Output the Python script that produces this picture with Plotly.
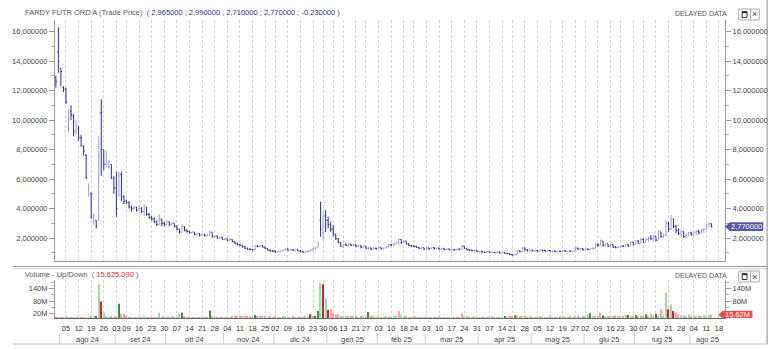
import pandas as pd
import plotly.graph_objects as go

# ---------------- data ----------------
first_session = "2024-07-30"
holidays = ["2024-09-02", "2024-11-28", "2024-12-25", "2025-01-01", "2025-01-09",
            "2025-01-20", "2025-02-17", "2025-04-18", "2025-05-26", "2025-06-19", "2025-07-04"]
month_names = ["gen", "feb", "mar", "apr", "mag", "giu", "lug", "ago", "set", "ott", "nov", "dic"]
price_ticks = [2, 4, 6, 8, 10, 12, 14, 16]
price_tick_text = ["2,000000", "4,000000", "6,000000", "8,000000", "10,000000",
                   "12,000000", "14,000000", "16,000000"]
volume_ticks = [20, 80, 140]
volume_tick_text = ["20M", "80M", "140M"]

opens = [
    12.9, 14.6, 13.5, 12.2, 12.1, 9.5, 10.6, 10.3, 9.3, 9.4,
    8.8, 8.2, 7.6, 5.0, 5.0, 3.3, 3.2, 3.2, 10.5, 8.0,
    7.0, 6.8, 7.0, 6.0, 5.4, 4.9, 6.3, 4.8, 4.5, 4.4,
    4.1, 4.0, 4.1, 3.9, 4.0, 3.8, 4.1, 3.6, 3.4, 3.3,
    3.1, 2.9, 3.3, 3.0, 2.9, 3.1, 2.9, 3.0, 2.8, 2.6,
    2.4, 2.8, 2.5, 2.45, 2.35, 2.4, 2.25, 2.3, 2.2, 2.25,
    2.15, 2.2, 2.4, 2.1, 2.15, 2.0, 2.05, 1.9, 1.95, 1.85,
    1.9, 1.75, 1.65, 1.55, 1.5, 1.4, 1.3, 1.25, 1.22, 1.2,
    1.45, 1.42, 1.48, 1.38, 1.28, 1.18, 1.12, 1.1, 1.05, 1.1,
    1.12, 1.18, 1.25, 1.18, 1.22, 1.16, 1.2, 1.12, 1.08, 1.05,
    1.08, 1.12, 1.2, 1.3, 1.4, 3.2, 2.3, 3.5, 3.2, 2.9,
    2.6, 2.2, 1.95, 1.7, 1.45, 1.55, 1.5, 1.58, 1.5, 1.55,
    1.45, 1.48, 1.38, 1.45, 1.3, 1.32, 1.25, 1.3, 1.28, 1.35,
    1.28, 1.32, 1.4, 1.55, 1.5, 1.6, 1.7, 1.9, 1.7, 1.8,
    1.6, 1.5, 1.45, 1.42, 1.36, 1.3, 1.35, 1.25, 1.32, 1.28,
    1.35, 1.28, 1.32, 1.25, 1.3, 1.22, 1.25, 1.2, 1.22, 1.18,
    1.25, 1.2, 1.45, 1.3, 1.2, 1.18, 1.15, 1.18, 1.08, 1.1,
    1.05, 1.02, 1.08, 1.0, 1.02, 1.0, 1.05, 0.98, 1.02, 0.96,
    0.94, 0.88, 0.85, 0.88, 1.12, 1.08, 1.3, 1.2, 1.12, 1.18,
    1.12, 1.15, 1.1, 1.18, 1.14, 1.12, 1.15, 1.1, 1.12, 1.08,
    1.1, 1.08, 1.14, 1.1, 1.12, 1.08, 1.12, 1.32, 1.25, 1.28,
    1.2, 1.25, 1.22, 1.28, 1.3, 1.55, 1.5, 1.8, 1.5, 1.6,
    1.45, 1.55, 1.38, 1.35, 1.4, 1.45, 1.42, 1.55, 1.45, 1.7,
    1.55, 1.8, 1.65, 1.9, 1.7, 1.9, 2.0, 1.95, 2.1, 1.85,
    2.4, 2.1, 2.2, 3.0, 2.6, 3.3, 2.8, 2.5, 2.3, 2.45,
    2.1, 2.2, 2.35, 2.25, 2.4, 2.45, 2.35, 2.55, 2.6, 2.9,
    2.965]
highs = [
    13.0, 16.3, 13.5, 12.3, 12.2, 10.7, 11.0, 10.4, 10.0, 9.6,
    9.0, 8.3, 7.7, 5.7, 5.1, 3.7, 3.2, 8.9, 11.4, 8.0,
    7.9, 7.3, 7.0, 6.2, 6.5, 6.5, 6.5, 4.9, 4.6, 4.5,
    4.2, 4.2, 4.1, 4.1, 4.1, 4.3, 4.1, 3.7, 3.5, 3.4,
    3.2, 3.6, 3.3, 3.1, 3.2, 3.1, 3.1, 3.0, 2.85, 2.6,
    2.95, 2.8, 2.6, 2.5, 2.45, 2.4, 2.35, 2.3, 2.3, 2.25,
    2.3, 2.5, 2.4, 2.2, 2.15, 2.1, 2.05, 2.0, 1.95, 2.0,
    1.9, 1.8, 1.7, 1.6, 1.5, 1.45, 1.35, 1.3, 1.25, 1.5,
    1.52, 1.5, 1.52, 1.4, 1.3, 1.22, 1.18, 1.15, 1.12, 1.15,
    1.2, 1.3, 1.28, 1.25, 1.25, 1.22, 1.22, 1.18, 1.12, 1.1,
    1.15, 1.22, 1.35, 1.4, 1.75, 4.46, 3.79, 3.9, 3.45, 3.1,
    2.88, 2.3, 1.98, 1.7, 1.6, 1.64, 1.62, 1.6, 1.58, 1.55,
    1.52, 1.5, 1.5, 1.45, 1.38, 1.35, 1.4, 1.35, 1.38, 1.35,
    1.38, 1.45, 1.6, 1.6, 1.65, 1.75, 1.98, 1.92, 1.85, 1.8,
    1.65, 1.52, 1.52, 1.45, 1.4, 1.38, 1.35, 1.38, 1.35, 1.38,
    1.38, 1.35, 1.32, 1.32, 1.3, 1.28, 1.28, 1.25, 1.22, 1.28,
    1.28, 1.52, 1.45, 1.3, 1.25, 1.2, 1.2, 1.18, 1.12, 1.12,
    1.08, 1.12, 1.08, 1.05, 1.05, 1.08, 1.08, 1.05, 1.05, 1.0,
    0.96, 0.92, 0.9, 1.18, 1.18, 1.37, 1.37, 1.25, 1.22, 1.2,
    1.2, 1.18, 1.22, 1.2, 1.2, 1.18, 1.18, 1.15, 1.15, 1.14,
    1.14, 1.16, 1.16, 1.15, 1.15, 1.15, 1.4, 1.35, 1.32, 1.32,
    1.3, 1.3, 1.32, 1.35, 1.64, 1.65, 1.9, 1.8, 1.64, 1.62,
    1.58, 1.55, 1.45, 1.45, 1.5, 1.52, 1.6, 1.6, 1.75, 1.75,
    1.85, 1.85, 2.0, 1.98, 1.98, 2.1, 2.2, 2.2, 2.1, 2.54,
    2.4, 2.3, 3.22, 3.1, 3.56, 3.3, 2.88, 2.66, 2.54, 2.45,
    2.3, 2.4, 2.43, 2.43, 2.54, 2.54, 2.6, 2.66, 3.0, 3.05,
    2.99]
lows = [
    12.2, 13.2, 12.3, 11.9, 11.1, 9.2, 10.0, 8.9, 9.0, 8.6,
    8.2, 7.6, 6.0, 4.8, 3.3, 2.9, 2.65, 3.2, 6.2, 6.6,
    6.8, 6.7, 6.0, 5.0, 3.45, 4.8, 4.5, 4.3, 4.3, 4.0,
    3.8, 3.9, 3.8, 3.9, 3.7, 3.5, 3.5, 3.3, 3.2, 3.0,
    2.8, 2.9, 2.8, 2.8, 2.9, 2.8, 2.85, 2.7, 2.55, 2.3,
    2.35, 2.45, 2.35, 2.3, 2.3, 2.2, 2.2, 2.1, 2.15, 2.1,
    2.1, 2.15, 2.0, 2.0, 1.95, 1.95, 1.85, 1.85, 1.8, 1.8,
    1.7, 1.6, 1.5, 1.45, 1.35, 1.25, 1.2, 1.18, 1.15, 1.2,
    1.38, 1.4, 1.35, 1.25, 1.15, 1.08, 1.05, 1.0, 1.02, 1.05,
    1.08, 1.15, 1.15, 1.15, 1.14, 1.12, 1.1, 1.05, 1.02, 1.0,
    1.05, 1.1, 1.18, 1.22, 1.35, 2.09, 1.86, 2.4, 2.66, 2.43,
    2.1, 1.87, 1.64, 1.4, 1.35, 1.45, 1.42, 1.45, 1.42, 1.38,
    1.38, 1.3, 1.35, 1.25, 1.22, 1.18, 1.22, 1.2, 1.25, 1.2,
    1.25, 1.3, 1.38, 1.45, 1.45, 1.55, 1.55, 1.6, 1.65, 1.55,
    1.45, 1.38, 1.38, 1.32, 1.25, 1.25, 1.2, 1.22, 1.2, 1.25,
    1.22, 1.25, 1.2, 1.2, 1.18, 1.18, 1.18, 1.15, 1.12, 1.15,
    1.18, 1.2, 1.25, 1.15, 1.12, 1.1, 1.1, 1.05, 1.02, 1.0,
    0.98, 1.0, 0.98, 0.98, 0.96, 0.98, 0.96, 0.95, 0.94, 0.9,
    0.85, 0.8, 0.8, 0.86, 1.02, 1.05, 1.15, 1.08, 1.1, 1.08,
    1.08, 1.08, 1.08, 1.1, 1.08, 1.08, 1.08, 1.06, 1.05, 1.05,
    1.05, 1.06, 1.06, 1.06, 1.05, 1.05, 1.1, 1.2, 1.18, 1.15,
    1.18, 1.18, 1.2, 1.22, 1.28, 1.4, 1.45, 1.4, 1.42, 1.38,
    1.4, 1.32, 1.3, 1.3, 1.32, 1.38, 1.4, 1.4, 1.45, 1.5,
    1.55, 1.6, 1.65, 1.65, 1.7, 1.75, 1.86, 1.75, 1.8, 1.85,
    2.0, 2.0, 2.1, 2.43, 2.54, 2.66, 2.32, 2.2, 2.1, 2.0,
    2.0, 2.1, 2.15, 2.1, 2.2, 2.25, 2.3, 2.35, 2.55, 2.7,
    2.71]
closes = [
    12.6, 14.0, 13.3, 12.1, 11.2, 10.0, 10.35, 9.2, 9.6, 8.8,
    8.3, 7.9, 6.1, 5.4, 3.5, 3.5, 2.8, 7.6, 8.0, 7.0,
    7.5, 7.2, 6.1, 5.4, 4.0, 6.2, 4.8, 4.5, 4.4, 4.1,
    4.0, 4.1, 3.9, 4.0, 3.8, 4.2, 3.6, 3.4, 3.3, 3.1,
    2.9, 3.3, 3.0, 2.9, 3.1, 2.9, 3.0, 2.8, 2.6, 2.4,
    2.8, 2.5, 2.45, 2.35, 2.4, 2.25, 2.3, 2.2, 2.25, 2.15,
    2.2, 2.4, 2.1, 2.15, 2.0, 2.05, 1.9, 1.95, 1.85, 1.9,
    1.75, 1.65, 1.55, 1.5, 1.4, 1.3, 1.25, 1.22, 1.2, 1.45,
    1.42, 1.48, 1.38, 1.28, 1.18, 1.12, 1.1, 1.05, 1.1, 1.12,
    1.18, 1.25, 1.18, 1.22, 1.16, 1.2, 1.12, 1.08, 1.05, 1.08,
    1.12, 1.2, 1.3, 1.35, 1.7, 2.6, 3.3, 3.2, 2.9, 2.6,
    2.3, 1.95, 1.7, 1.45, 1.55, 1.5, 1.58, 1.5, 1.55, 1.45,
    1.48, 1.38, 1.45, 1.3, 1.32, 1.25, 1.3, 1.28, 1.35, 1.28,
    1.32, 1.4, 1.55, 1.5, 1.6, 1.7, 1.9, 1.7, 1.8, 1.6,
    1.5, 1.45, 1.42, 1.36, 1.3, 1.35, 1.25, 1.32, 1.28, 1.35,
    1.28, 1.32, 1.25, 1.3, 1.22, 1.25, 1.2, 1.22, 1.18, 1.25,
    1.2, 1.45, 1.3, 1.2, 1.18, 1.15, 1.18, 1.08, 1.1, 1.05,
    1.02, 1.08, 1.0, 1.02, 1.0, 1.05, 0.98, 1.02, 0.96, 0.94,
    0.88, 0.85, 0.88, 1.12, 1.08, 1.3, 1.2, 1.12, 1.18, 1.12,
    1.15, 1.1, 1.18, 1.14, 1.12, 1.15, 1.1, 1.12, 1.08, 1.1,
    1.08, 1.14, 1.1, 1.12, 1.08, 1.12, 1.32, 1.25, 1.28, 1.2,
    1.25, 1.22, 1.28, 1.3, 1.55, 1.5, 1.8, 1.5, 1.6, 1.45,
    1.55, 1.38, 1.35, 1.4, 1.45, 1.42, 1.55, 1.45, 1.7, 1.55,
    1.8, 1.65, 1.9, 1.7, 1.9, 2.0, 1.95, 2.1, 1.85, 2.4,
    2.1, 2.2, 3.0, 2.6, 3.3, 2.8, 2.5, 2.3, 2.45, 2.1,
    2.2, 2.35, 2.25, 2.4, 2.45, 2.35, 2.55, 2.6, 2.9, 3.0,
    2.77]
volumes_m = [
    1.5, 2, 1, 1, 1.5, 1, 2, 1, 1, 2,
    2, 2, 3, 4, 10, 6, 10, 160, 78, 25,
    6, 4, 5, 4, 6, 68, 20, 20, 5, 3,
    3, 2, 4, 3, 2, 5, 3, 2, 4, 3,
    3, 25, 4, 3, 4, 3, 5, 3, 4, 22,
    25, 6, 4, 3, 4, 3, 2, 3, 4, 3,
    4, 36, 5, 3, 4, 3, 2, 3, 4, 3,
    6, 8, 5, 10, 7, 6, 8, 5, 4, 14,
    6, 8, 5, 7, 4, 6, 3, 5, 4, 3,
    5, 8, 4, 3, 5, 4, 3, 4, 3, 5,
    4, 17, 6, 10, 33, 165, 160, 92, 38, 41,
    22, 17, 17, 10, 8, 10, 6, 8, 5, 6,
    4, 6, 5, 4, 28, 12, 5, 4, 6, 3,
    4, 5, 8, 4, 6, 12, 33, 17, 6, 5,
    4, 3, 5, 3, 4, 2, 3, 4, 3, 2,
    3, 4, 2, 3, 4, 3, 2, 3, 4, 3,
    4, 22, 10, 5, 4, 3, 5, 4, 3, 4,
    3, 4, 3, 5, 4, 3, 4, 3, 10, 4,
    5, 6, 13, 9, 5, 6, 8, 4, 5, 4,
    3, 4, 5, 3, 4, 3, 5, 4, 3, 4,
    5, 10, 4, 3, 5, 4, 8, 5, 4, 6,
    5, 17, 22, 8, 12, 8, 25, 12, 6, 8,
    5, 7, 12, 6, 8, 5, 14, 14, 9, 7,
    14, 8, 10, 9, 17, 10, 20, 9, 20, 12,
    41, 12, 120, 41, 65, 33, 25, 17, 14, 12,
    10, 17, 8, 12, 9, 11, 8, 12, 10, 14,
    15.62509]
# U/u = up (strong/weak), D/d = down (strong/weak)
volume_flags = "".join([
    "ddddduddud", "ddduduUuDu", "uudddUdddd", "dudududddd", "duddududdu",
    "Udddududud", "uUdudududu", "dddddddddU", "dudddddduu", "uudududddu",
    "uDuUUuDuDd", "ddddududud", "ududUdudud", "uuuduuduud", "dddddududu",
    "dududududu", "ddudddudud", "dudududuUd", "ddUdduddud", "ududdududu",
    "dududuudud", "uuUuuddUud", "udduuddUud", "UdudUuduUu", "duuDuDddud",
    "uuduuduuuu", "d"])
title_values = "2,965000 ; 2,990000 ; 2,710000 ; 2,770000 ; -0,230000"
volume_total = "15.625.090"
last_price_text = "2,770000"
last_volume_text = "15,62M"

n = len(closes)
assert len(opens) == n and len(highs) == n and len(lows) == n
assert len(volumes_m) == n and len(volume_flags) == n

# ---------------- trading calendar ----------------
sessions = [d for d in pd.bdate_range(first_session, "2025-08-29")
            if d.strftime("%Y-%m-%d") not in holidays]
x_pos = list(range(n))
X0, X1 = -0.35, 265.4

week_vals, week_text, seen = [], [], set()
for p, d in enumerate(sessions):
    if p > X1:
        break
    wk = d.isocalendar()[:2]
    if wk not in seen:
        seen.add(wk)
        if d >= pd.Timestamp("2024-08-05"):
            week_vals.append(p)
            week_text.append(d.strftime("%d"))

months = {}
for p, d in enumerate(sessions):
    if p > X1 + 1:
        break
    months.setdefault((d.year, d.month), []).append(p)

# ---------------- geometry helpers ----------------
W, H = 780, 350
ML, MR, MT, MB = 43, 53, 20, 32
PW, PH = W - ML - MR, H - MT - MB


def fx(px):
    return (px - ML) / PW


def fy(py):
    return (H - MB - py) / PH


FONT = "Liberation Sans, Arial, sans-serif"
price_dom = [fy(261), 1.0]
vol_dom = [0.0, fy(280)]
PR = [0.439, 16.794]
VR = [0, 180]

navy = "#2b2d80"
lav = "#9c9cd3"
flag_colors = {"U": "#3f8a3f", "u": "#a8d5a8", "D": "#c3262b", "d": "#f2a2a2"}
vol_colors = [flag_colors[c] for c in volume_flags]

fig = go.Figure()
fig.add_trace(go.Ohlc(
    x=x_pos, open=opens, high=highs, low=lows, close=closes,
    increasing=dict(line=dict(color=lav, width=1)),
    decreasing=dict(line=dict(color=navy, width=1)),
    tickwidth=0.4, xaxis="x", yaxis="y", hoverinfo="skip", showlegend=False))
fig.add_trace(go.Bar(
    x=x_pos, y=volumes_m, marker=dict(color=vol_colors, line=dict(width=0)),
    width=0.5, xaxis="x2", yaxis="y2", hoverinfo="skip", showlegend=False))
# helper traces so the right-hand axes are drawn
fig.add_trace(go.Scatter(x=[x_pos[-1]], y=[closes[-1]], xaxis="x", yaxis="y3",
                         mode="markers", marker=dict(opacity=0), hoverinfo="skip",
                         showlegend=False))
fig.add_trace(go.Scatter(x=[x_pos[-1]], y=[volumes_m[-1]], xaxis="x2", yaxis="y4",
                         mode="markers", marker=dict(opacity=0), hoverinfo="skip",
                         showlegend=False))

grid = dict(showgrid=True, gridcolor="#d4d4d4", gridwidth=1, griddash="3px,2px")
xcommon = dict(range=[X0, X1], tickmode="array", tickvals=week_vals, zeroline=False,
               ticks="", fixedrange=True, rangeslider=dict(visible=False), **grid)
tickfont = dict(family=FONT, size=7.5, color="#444")

ycommon = dict(tickmode="array", zeroline=False, showgrid=False, ticks="outside",
               ticklen=5, tickcolor="#999", showline=True, linecolor="#999",
               linewidth=1, tickfont=tickfont, fixedrange=True)
price_minor = dict(tickmode="array", tickvals=[1, 3, 5, 7, 9, 11, 13, 15],
                   ticks="outside", ticklen=3, tickcolor="#aaa", showgrid=False)
vol_minor = dict(tickmode="array", tickvals=[50, 110, 170], ticks="outside",
                 ticklen=3, tickcolor="#aaa", showgrid=False)

fig.update_layout(
    width=W, height=H, margin=dict(l=ML, r=MR, t=MT, b=MB, pad=0),
    paper_bgcolor="white", plot_bgcolor="white", showlegend=False,
    font=dict(family=FONT, size=7.5, color="#444"),
    xaxis=dict(domain=[0, 1], anchor="y", showticklabels=False, showline=True,
               linecolor="#999", linewidth=1, **xcommon),
    xaxis2=dict(domain=[0, 1], anchor="y2", ticktext=week_text, showticklabels=True,
                tickangle=0, tickfont=dict(family=FONT, size=7.5, color="#333"),
                ticklabelstandoff=3, showline=True, linecolor="#666", linewidth=1,
                **xcommon),
    yaxis=dict(domain=price_dom, range=PR, anchor="x", side="left",
               tickvals=price_ticks, ticktext=price_tick_text, minor=price_minor,
               **ycommon),
    yaxis3=dict(range=PR, overlaying="y", anchor="x", side="right",
                tickvals=price_ticks, ticktext=price_tick_text, minor=price_minor,
                **ycommon),
    yaxis2=dict(domain=vol_dom, range=VR, anchor="x2", side="left",
                tickvals=volume_ticks, ticktext=volume_tick_text, minor=vol_minor,
                **ycommon),
    # the lowest right-hand label sits under the last-volume tag, as in the original
    yaxis4=dict(range=VR, overlaying="y2", anchor="x2", side="right",
                tickvals=volume_ticks[1:], ticktext=volume_tick_text[1:],
                minor=vol_minor, **ycommon),
)

shapes, annos = [], []


def pline(x0, y0, x1, y1, color, width=1):
    shapes.append(dict(type="line", xref="paper", yref="paper", x0=fx(x0), y0=fy(y0),
                       x1=fx(x1), y1=fy(y1), line=dict(color=color, width=width)))


def text(px, py, s, size=7.5, color="#444", xanchor="left"):
    annos.append(dict(xref="paper", yref="paper", x=fx(px), y=fy(py), text=s,
                      showarrow=False, xanchor=xanchor, yanchor="middle",
                      font=dict(family=FONT, size=size, color=color)))


# panel separators and frame
pline(0, 266.5, 770, 266.5, "#999")
pline(0, 268.5, 770, 268.5, "#d0d0d0")
pline(770, 0, 770, 344, "#888")
pline(0, 344, 770, 344, "#c0c0c0")

# month separators and labels
for (yy, mm), ps in months.items():
    start = ps[0] - 0.5
    if X0 < start < X1:
        shapes.append(dict(type="line", xref="x2", yref="paper", x0=start, x1=start,
                           y0=fy(333), y1=fy(344), line=dict(color="#cfcfcf", width=1)))
    lo, hi = max(ps[0] - 0.5, X0), min(ps[-1] + 0.5, X1)
    if hi - lo >= 5:
        annos.append(dict(xref="x2", yref="paper", x=(lo + hi) / 2, y=fy(339.5),
                          text=f"{month_names[mm - 1]} {str(yy)[2:]}", showarrow=False,
                          xanchor="center", yanchor="middle",
                          font=dict(family=FONT, size=7.5, color="#444")))

# titles
text(10.5, 12.5, "FARDY FUTR ORD A (Trade Price)  "
     f"<span style='color:#2e2f8c'>( {title_values} )</span>", color="#555")
text(10.5, 274, "Volume - Up/Down  ( "
     f"<span style='color:#e0262c'>{volume_total}</span> )", color="#555")
for yb in (0, 262):
    text(731, 13.5 + yb, "DELAYED DATA", size=7, color="#555", xanchor="right")
    shapes.append(dict(type="rect", xref="paper", yref="paper", x0=fx(741), x1=fx(753),
                       y0=fy(9 + yb), y1=fy(20 + yb), line=dict(color="#aaa", width=1),
                       fillcolor="white"))
    shapes.append(dict(type="rect", xref="paper", yref="paper", x0=fx(753), x1=fx(762),
                       y0=fy(9 + yb), y1=fy(20 + yb), line=dict(color="#aaa", width=1),
                       fillcolor="white"))
    shapes.append(dict(type="rect", xref="paper", yref="paper", x0=fx(744.5), x1=fx(749.5),
                       y0=fy(11.5 + yb), y1=fy(17.5 + yb), line=dict(color="#333", width=1),
                       fillcolor="white"))
    shapes.append(dict(type="rect", xref="paper", yref="paper", x0=fx(744.5), x1=fx(749.5),
                       y0=fy(11.5 + yb), y1=fy(13.2 + yb), line=dict(width=0),
                       fillcolor="#333"))
    text(757.5, 14.5 + yb, "×", size=9, color="#333", xanchor="center")

# last-value tags
p_unit = (price_dom[1] - price_dom[0]) * PH / (PR[1] - PR[0])
v_unit = (vol_dom[1] - vol_dom[0]) * PH / (VR[1] - VR[0])
c, hh = closes[-1], 4.3 / p_unit
shapes.append(dict(type="path", xref="paper", yref="y", fillcolor="#5757a6",
                   line=dict(width=0),
                   path=f"M {fx(727)} {c} L {fx(732)} {c + hh} L {fx(766)} {c + hh} "
                        f"L {fx(766)} {c - hh} L {fx(732)} {c - hh} Z"))
annos.append(dict(xref="paper", yref="y", x=fx(749), y=c, text=last_price_text,
                  showarrow=False, xanchor="center", yanchor="middle",
                  font=dict(family=FONT, size=7.5, color="white")))
v, vh = volumes_m[-1], 4.0 / v_unit
shapes.append(dict(type="path", xref="paper", yref="y2", fillcolor="#ec4a4e",
                   line=dict(width=0),
                   path=f"M {fx(720)} {v} L {fx(725)} {v + vh} L {fx(755)} {v + vh} "
                        f"L {fx(755)} {v - vh} L {fx(725)} {v - vh} Z"))
annos.append(dict(xref="paper", yref="y2", x=fx(740), y=v, text=last_volume_text,
                  showarrow=False, xanchor="center", yanchor="middle",
                  font=dict(family=FONT, size=7.5, color="white")))

fig.update_layout(shapes=shapes, annotations=annos)
fig.write_html("out.html", config={"displayModeBar": False})
